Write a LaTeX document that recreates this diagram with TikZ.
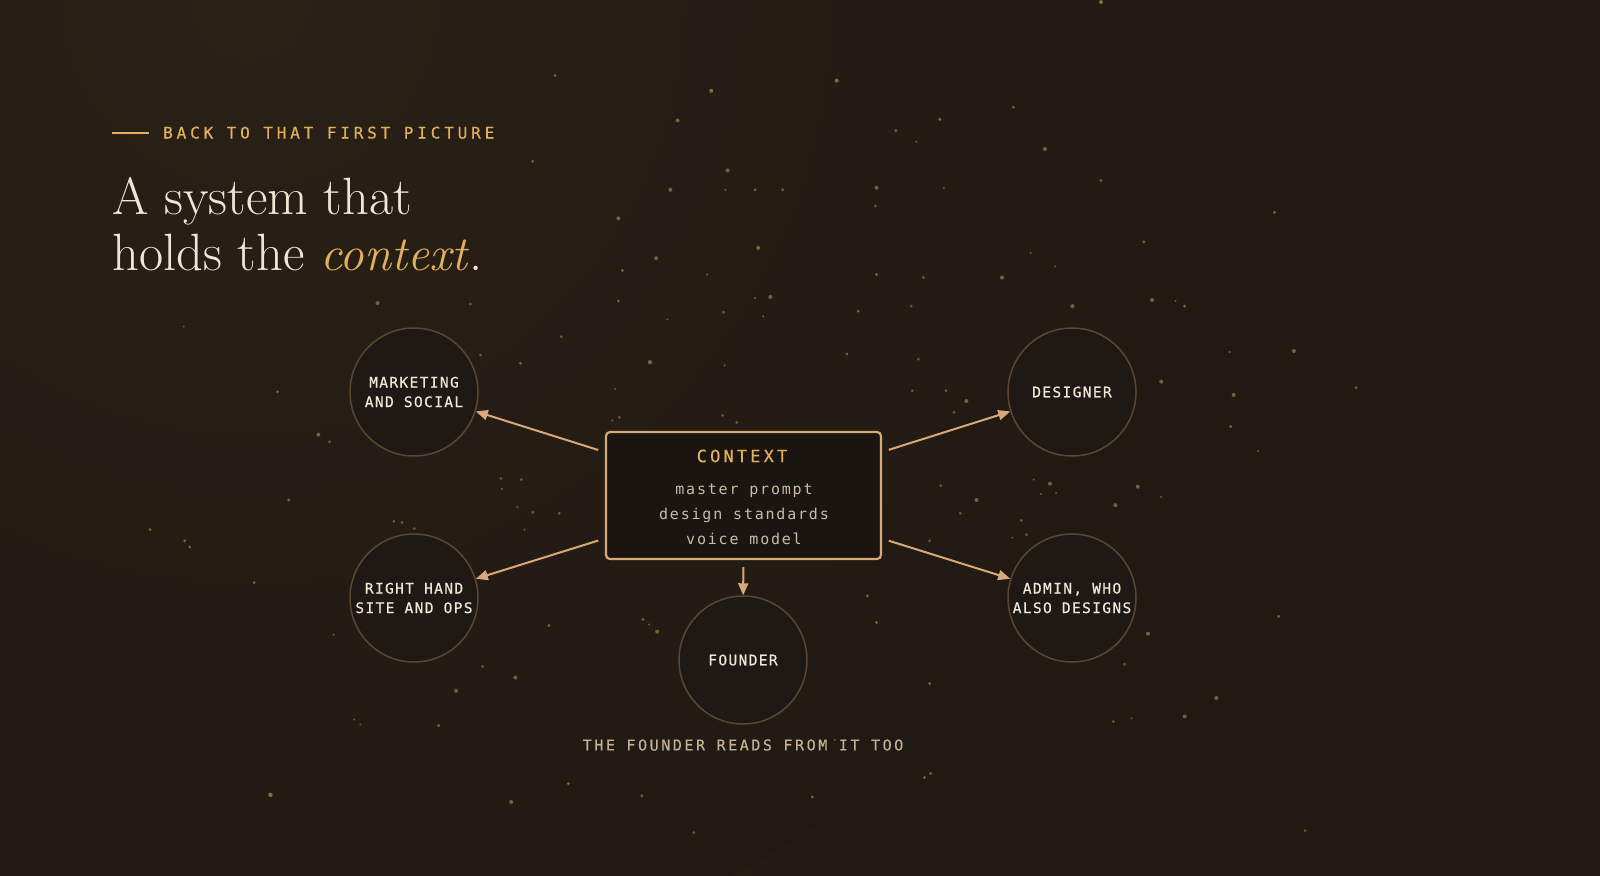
\documentclass[tikz,border=0pt]{standalone}
\usepackage{fontspec}
\usetikzlibrary{arrows.meta}
\newfontfamily\kickerfont[LetterSpace=24,FakeBold=0.6]{DejaVu Sans Mono}
\newfontfamily\rolefont[LetterSpace=9.5,FakeBold=0.6]{DejaVu Sans Mono}
\newfontfamily\ctxheadfont[LetterSpace=18.5,FakeBold=0.4]{DejaVu Sans Mono}
\newfontfamily\ctxbodyfont[LetterSpace=12]{DejaVu Sans Mono}
\newfontfamily\footfont[LetterSpace=17,FakeBold=0.3]{DejaVu Sans Mono}
\definecolor{bgbase}{HTML}{211A13}
\definecolor{bgglow}{HTML}{35291B}
\definecolor{bgtop}{HTML}{292016}
\definecolor{gold}{HTML}{E2B05A}
\definecolor{cream}{HTML}{EFE6D6}
\definecolor{tan}{HTML}{D8A878}
\definecolor{ringline}{HTML}{584833}
\definecolor{ringfill}{HTML}{1F1915}
\definecolor{boxfill}{HTML}{1A1511}
\definecolor{bodytext}{HTML}{C9BCA8}
\definecolor{foottext}{HTML}{C2B196}
\definecolor{speck}{HTML}{B38D4C}
\tikzset{
  role/.style={circle, draw=ringline, line width=1.5pt, fill=ringfill, minimum size=128pt,
    inner sep=0pt, align=center, text=cream, font=\rolefont\fontsize{14.5}{19.5}\selectfont},
  ctxbox/.style={rectangle, rounded corners=4pt, draw=tan, line width=2.2pt, fill=boxfill,
    minimum width=275pt, minimum height=127pt},
  link/.style={draw=tan, line width=2pt, -{Triangle[length=12pt,width=10pt]}, shorten <=7pt},
  title/.style={inner sep=0pt, anchor=base west, text=cream, font=\rmfamily\fontsize{52.5}{60}\selectfont}
}

\begin{document}
\begin{tikzpicture}[x=1pt,y=1pt,yscale=-1,xscale=1]
	% background
	\useasboundingbox (0,0) rectangle (1600,875);
	\fill[bgbase] (-10,-10) rectangle (1610,885);
	\begin{scope}
	\clip (-10,-10) rectangle (1610,885);
	\shade[inner color=bgglow, outer color=bgbase] (0,875) circle (900);
	\shade[inner color=bgtop, outer color=bgbase] (250,0) circle (1000);
	\end{scope}
	% specks
	\foreach \x/\y/\r/\o in {1079/2/2/.7, 544/74/1.6/.6, 820/79/2/.7, 697/89/2/.7, 993/105/1.6/.6, 664/118/2/.6,
	  921/117/1.6/.7, 878/128/1.6/.6, 898/139/1.2/.5, 1024/146/2/.6, 522/158/1.6/.6, 713/167/2/.6, 657/186/2/.6,
	  740/186/1.6/.6, 767/186/1.6/.6, 859/184/2/.6, 925/184/1.2/.5, 711/186/1.2/.5, 1079/177/1.6/.6, 1249/208/1.6/.6,
	  606/214/2/.6, 858/202/1.6/.5, 1121/237/1.6/.6, 743/243/2/.6, 1010/248/1.2/.5, 1034/261/1.2/.5, 982/272/2/.6,
	  643/253/2/.6, 610/265/1.6/.6, 693/269/1.2/.5, 905/272/1.6/.5, 859/269/1.6/.6, 1129/294/2/.6, 1152/295/1.2/.5,
	  1161/300/1.6/.6, 1051/300/2/.6, 755/291/2/.6, 740/292/1.2/.5, 841/305/1.6/.6, 370/297/2/.6, 461/298/1.6/.5,
	  180/320/1.2/.5, 606/295/1.6/.6, 550/330/1.6/.5, 654/313/1.2/.5, 709/306/1.6/.5, 748/310/1.2/.5, 893/300/1.6/.5,
	  1268/344/2/.6, 1205/345/1.2/.5, 830/347/1.6/.6, 637/355/2.2/.6, 510/356/1.6/.6, 471/348/1.6/.5, 710/358/1.2/.5,
	  900/352/1.6/.5, 272/384/1.6/.6, 603/381/1.2/.5, 1138/374/2/.6, 1329/380/1.6/.6, 1209/387/2/.6, 894/383/1.6/.5,
	  927/383/1.6/.5, 607/409/1.6/.5, 708/407/1.6/.5, 600/412/1.2/.5, 722/414/1.6/.5, 947/393/2/.6, 312/426/2/.6,
	  323/433/1.6/.5, 1206/418/1.6/.6, 1233/442/1.2/.5, 935/404/1.6/.5, 491/469/1.6/.5, 492/479/1.2/.5, 511/470/1.6/.5,
	  1013/470/1.2/.5, 1029/474/2/.6, 1035/483/1.2/.5, 1020/484/1.2/.5, 922/476/1.6/.5, 957/490/2/.6, 1115/477/2/.6,
	  1138/487/1.2/.5, 283/490/1.6/.6, 507/497/1.2/.5, 522/502/1.6/.5, 548/503/1.6/.5, 514/519/1.2/.5, 941/503/1.6/.5,
	  1093/495/2/.6, 1001/510/1.6/.5, 147/519/1.6/.6, 181/530/1.6/.6, 186/536/1.6/.6, 386/511/1.6/.5, 394/512/1.6/.5,
	  406/518/1.6/.5, 992/527/1.2/.5, 1006/524/1.6/.5, 911/530/1.6/.5, 996/564/1.6/.5, 249/571/1.6/.6, 538/613/1.6/.6,
	  630/607/1.6/.6, 636/612/1.2/.5, 644/619/2/.6, 850/584/1.6/.6, 859/610/1.6/.6, 1125/621/2/.6, 1253/604/1.6/.6,
	  327/622/1.2/.5, 473/653/1.6/.5, 1102/651/1.6/.5, 505/664/2/.6, 447/677/2/.6, 911/670/1.6/.6, 1192/684/2/.6,
	  1161/702/2/.6, 1109/704/1.2/.5, 1091/707/1.6/.5, 347/705/1.2/.5, 353/710/1.2/.5, 430/711/1.6/.6, 912/758/1.6/.6,
	  906/762/1.6/.6, 818/725/1.2/.5, 557/768/1.6/.6, 265/779/2.2/.7, 501/786/2/.6, 629/780/1.6/.6, 796/781/1.6/.6,
	  680/816/1.6/.5, 1279/814/1.6/.5}
	  \fill[speck, opacity=\o] ({1.0204*\x},{1.0204*\y}) circle (\r);
	% heading
	\draw[gold, line width=2pt] (112,132.5) -- (149,132.5);
	\node[inner sep=0pt, anchor=base west, text=gold, font=\kickerfont\fontsize{16}{19}\selectfont] (kick) at (163,138.5) {BACK TO THAT FIRST PICTURE};
	\node[title] (ttla) at (112,214) {A system that};
	\node[title] (ttlb) at (112,270) {holds the {\fontsize{49}{60}\selectfont\textcolor{gold}{\textit{context}}}.};
	% context box
	\node[ctxbox] (ctx) at (743.5,495.5) {};
	\node[text=gold, font=\ctxheadfont\fontsize{17}{20}\selectfont] (ctxhead) at (742,456) {CONTEXT};
	\node[text=bodytext, align=center, font=\ctxbodyfont\fontsize{15}{25}\selectfont] (ctxbody) at (744,514) {master prompt\\design standards\\voice model};
	% roles
	\node[role] (mkt) at (414,392) {MARKETING\\AND SOCIAL};
	\node[role] (dsg) at (1072,392) {DESIGNER};
	\node[role] (rhd) at (414,598) {RIGHT HAND\\SITE AND OPS};
	\node[role] (adm) at (1072,598) {ADMIN, WHO\\ALSO DESIGNS};
	\node[role] (fdr) at (743,660) {FOUNDER};
	\draw[link] (ctx) -- (mkt);
	\draw[link] (ctx) -- (rhd);
	\draw[link] (ctx) -- (dsg);
	\draw[link] (ctx) -- (adm);
	\draw[link] (ctx) -- (fdr);
	\node[text=foottext, font=\footfont\fontsize{15}{18}\selectfont] (foot) at (743,745) {THE FOUNDER READS FROM IT TOO};
\end{tikzpicture}
\end{document}
